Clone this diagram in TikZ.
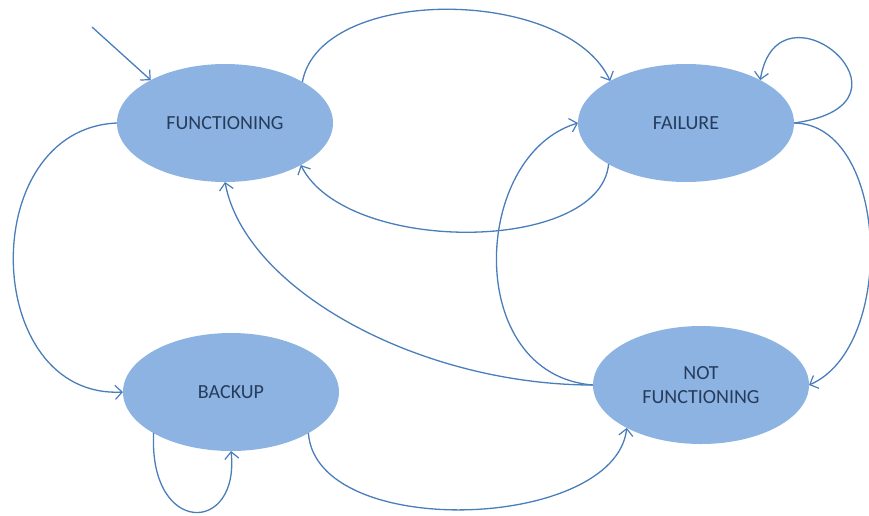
\documentclass[tikz,border=0pt]{standalone}
\usepackage{fontspec}
\setmainfont{Carlito}
\usetikzlibrary{shapes.geometric,arrows.meta}
\definecolor{statefill}{RGB}{141,179,226}
\definecolor{edgeblue}{RGB}{74,126,187}
\definecolor{statetext}{RGB}{38,60,92}
\tikzset{
  state/.style={ellipse, fill=statefill, draw=none, inner sep=0pt, outer sep=0pt,
    minimum width=216pt, minimum height=118pt, text=statetext,
    font=\fontsize{20pt}{24.5pt}\selectfont, align=center},
  trans/.style={draw=edgeblue, line width=1.3pt,
    -{Straight Barb[length=7pt,width=14pt,line width=1.2pt]}}
}
\begin{document}
\begin{tikzpicture}[x=1pt,y=-1pt]
\useasboundingbox (0,0) rectangle (869,515);
\node[state] (fn) at (225,123) {FUNCTIONING};
\node[state] (fl) at (686,123) {FAILURE};
\node[state] (bk) at (231,392) {BACKUP};
\node[state] (nf) at (701,385) {NOT\\FUNCTIONING};
\coordinate (init) at (92,27);

% entry arrow
\draw[trans] (init) -- (fn.150);
% FUNCTIONING <-> FAILURE
\draw[trans] (fn.28) .. controls +(18,-97) and +(-44,-95) .. (fl.151);
\draw[trans] (fl.-152) .. controls +(-9,90) and +(45,90) .. (fn.-29);
% FAILURE self loop
\draw[trans] (fl.0) .. controls +(140,-19) and +(18,-108) .. (fl.30);
% FAILURE -> NOT FUNCTIONING
\draw[trans] (fl.0) .. controls +(95,1) and +(88,-38) .. (nf.0);
% NOT FUNCTIONING -> FAILURE
\draw[trans] (nf.180) .. controls +(-130,-10) and +(-107,32) .. (fl.180);
% NOT FUNCTIONING -> FUNCTIONING
\draw[trans] (nf.180) .. controls +(-173,0) and +(20,108) .. (fn.-90);
% FUNCTIONING -> BACKUP
\draw[trans] (fn.180) .. controls +(-142,6) and +(-142,7) .. (bk.180);
% BACKUP self loop
\draw[trans] (bk.-152) .. controls +(-5,103) and +(9,84) .. (bk.-90);
% BACKUP -> NOT FUNCTIONING
\draw[trans] (bk.-28) .. controls +(8,108) and +(-12,103) .. (nf.-150);
\end{tikzpicture}
\end{document}
